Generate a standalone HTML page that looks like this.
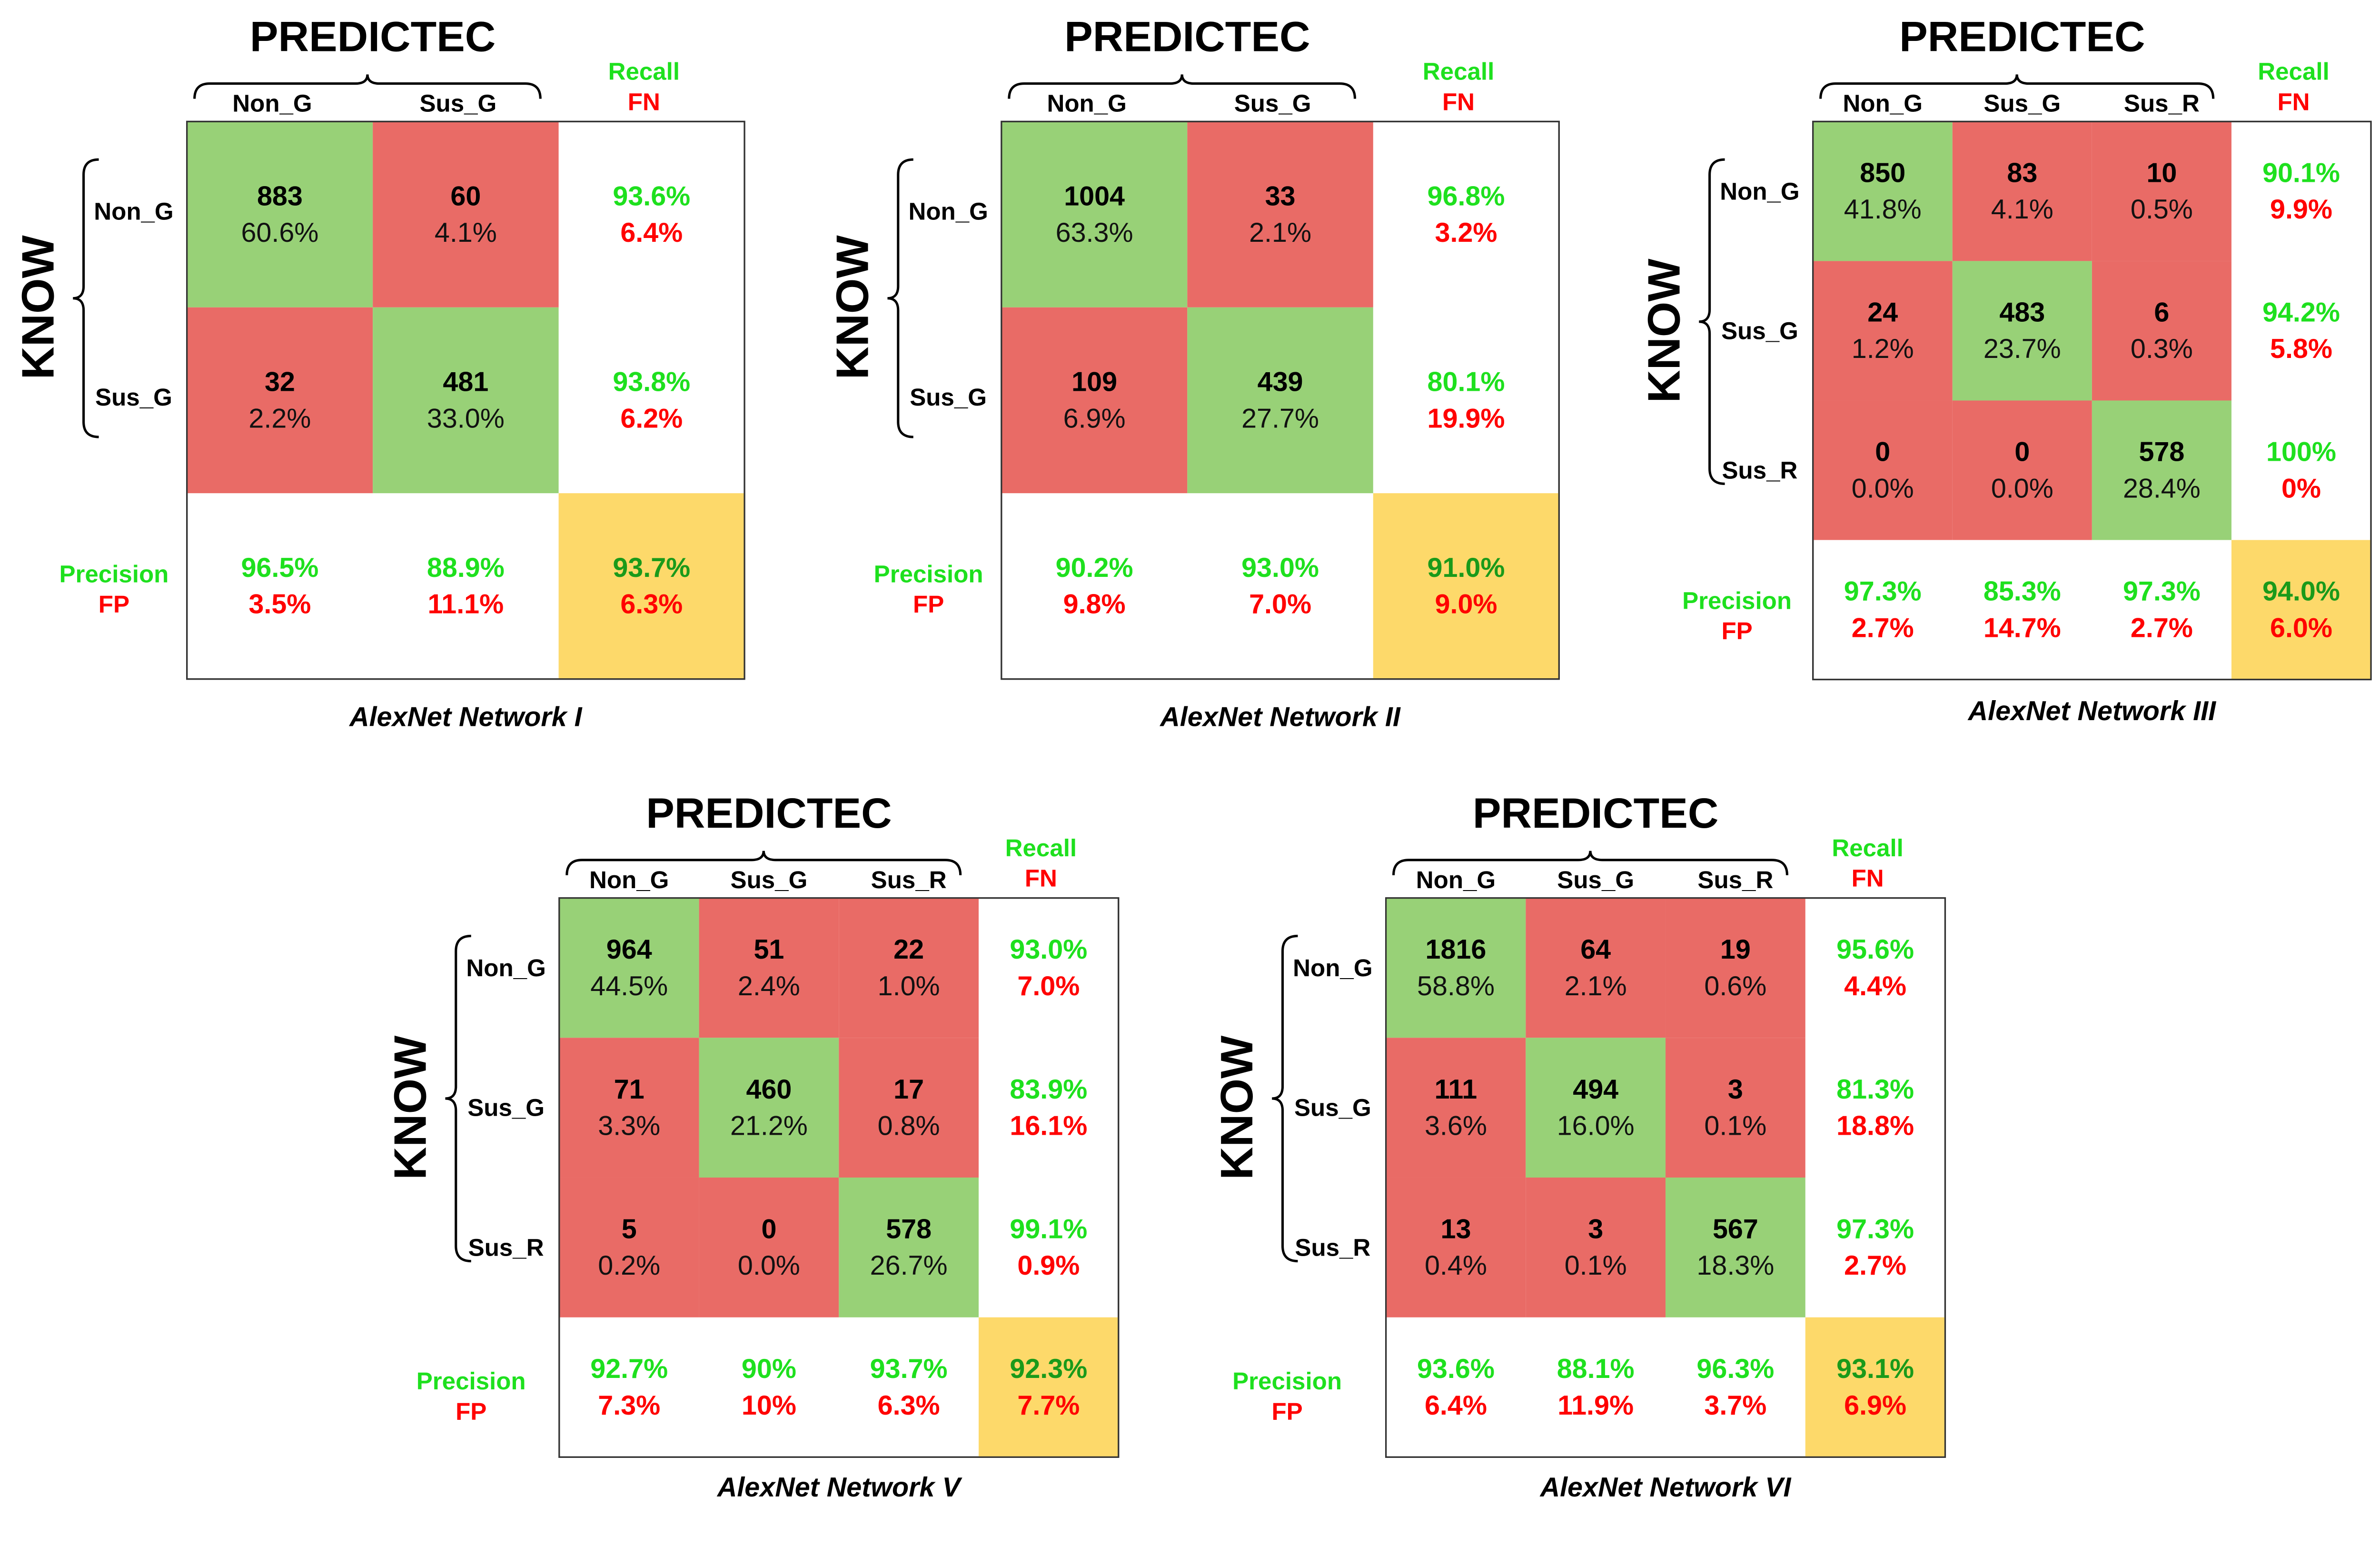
<!DOCTYPE html>
<html><head><meta charset="utf-8">
<style>
html,body{margin:0;padding:0;background:#fff;}
svg{display:block;font-family:"Liberation Sans",Arial,sans-serif;}
</style></head>
<body>
<svg id="chart" width="5140" height="3288" viewBox="0 0 1568 1003" preserveAspectRatio="none" xmlns="http://www.w3.org/2000/svg"></svg>
<script>
// ---- data ----
const titles = ["AlexNet Network I","AlexNet Network II","AlexNet Network III","AlexNet Network V","AlexNet Network VI"];
const classes2 = ["Non_G","Sus_G"];
const classes3 = ["Non_G","Sus_G","Sus_R"];
const counts1 = [[883,60],[32,481]];
const pcts1 = [["60.6%","4.1%"],["2.2%","33.0%"]];
const recall1 = ["93.6%","93.8%"]; const fn1 = ["6.4%","6.2%"];
const prec1 = ["96.5%","88.9%"]; const fp1 = ["3.5%","11.1%"];
const overall1 = ["93.7%","6.3%"];
const counts2 = [[1004,33],[109,439]];
const pcts2 = [["63.3%","2.1%"],["6.9%","27.7%"]];
const recall2 = ["96.8%","80.1%"]; const fn2 = ["3.2%","19.9%"];
const prec2 = ["90.2%","93.0%"]; const fp2 = ["9.8%","7.0%"];
const overall2 = ["91.0%","9.0%"];
const counts3 = [[850,83,10],[24,483,6],[0,0,578]];
const pcts3 = [["41.8%","4.1%","0.5%"],["1.2%","23.7%","0.3%"],["0.0%","0.0%","28.4%"]];
const recall3 = ["90.1%","94.2%","100%"]; const fn3 = ["9.9%","5.8%","0%"];
const prec3 = ["97.3%","85.3%","97.3%"]; const fp3 = ["2.7%","14.7%","2.7%"];
const overall3 = ["94.0%","6.0%"];
const counts5 = [[964,51,22],[71,460,17],[5,0,578]];
const pcts5 = [["44.5%","2.4%","1.0%"],["3.3%","21.2%","0.8%"],["0.2%","0.0%","26.7%"]];
const recall5 = ["93.0%","83.9%","99.1%"]; const fn5 = ["7.0%","16.1%","0.9%"];
const prec5 = ["92.7%","90%","93.7%"]; const fp5 = ["7.3%","10%","6.3%"];
const overall5 = ["92.3%","7.7%"];
const counts6 = [[1816,64,19],[111,494,3],[13,3,567]];
const pcts6 = [["58.8%","2.1%","0.6%"],["3.6%","16.0%","0.1%"],["0.4%","0.1%","18.3%"]];
const recall6 = ["95.6%","81.3%","97.3%"]; const fn6 = ["4.4%","18.8%","2.7%"];
const prec6 = ["93.6%","88.1%","96.3%"]; const fp6 = ["6.4%","11.9%","3.7%"];
const overall6 = ["93.1%","6.9%"];

const NS="http://www.w3.org/2000/svg";
const svg=document.getElementById('chart');
const GREEN="#98d177", RED="#e96b66", YEL="#fdd96a", TG="#1ee01e", TR="#ff0000";
function el(tag,attrs,parent){const e=document.createElementNS(NS,tag);for(const k in attrs)e.setAttribute(k,attrs[k]);(parent||svg).appendChild(e);return e;}
function txt(parent,x,y,s,size,weight,fill,extra){const t=el('text',Object.assign({x:x,y:y,'font-size':size,'font-weight':weight,fill:fill,'text-anchor':'middle','dominant-baseline':'central'},extra||{}),parent);t.textContent=s;return t;}

function drawMatrix(idx,x0,y0,cell,classes,counts,pcts,recall,fn,prec,fp,overall,precDx,precDy){
  const n=classes.length, g=el('g',{});
  
  
  const W=cell*(n+1), cw=cell*n;
  el('rect',{x:x0,y:y0,width:W,height:W,fill:'#fff',stroke:'#333','stroke-width':1},g);
  for(let r=0;r<n;r++)for(let c=0;c<n;c++){
    const rc=el('rect',{x:x0+c*cell,y:y0+r*cell,width:cell,height:cell,fill:r===c?GREEN:RED},g);
    
    
    const cx=x0+c*cell+cell/2, cy=y0+r*cell+cell/2;
    txt(g,cx,cy-12,String(counts[r][c]),18,'bold','#000');
    txt(g,cx,cy+12,pcts[r][c],18,'normal','#111');
  }
  for(let r=0;r<n;r++){
    const cx=x0+cw+cell/2, cy=y0+r*cell+cell/2;
    const a=txt(g,cx,cy-12,recall[r],18,'bold',TG); 
    const b=txt(g,cx,cy+12,fn[r],18,'bold',TR); 
  }
  for(let c=0;c<n;c++){
    const cx=x0+c*cell+cell/2, cy=y0+cw+cell/2;
    const a=txt(g,cx,cy-12,prec[c],18,'bold',TG); 
    const b=txt(g,cx,cy+12,fp[c],18,'bold',TR); 
  }
  el('rect',{x:x0+cw,y:y0+cw,width:cell,height:cell,fill:YEL},g);
  txt(g,x0+cw+cell/2,y0+cw+cell/2-12,overall[0],18,'bold','#1a9a1a');
  txt(g,x0+cw+cell/2,y0+cw+cell/2+12,overall[1],18,'bold',TR);
  el('rect',{x:x0,y:y0,width:W,height:W,fill:'none',stroke:'#333','stroke-width':1},g);
  const t=txt(g,x0+cw/2,y0-56,'PREDICTEC',28,'bold','#000');
  
  const bx1=x0+5,bx2=x0+cw-12,bm=(bx1+bx2)/2,by=y0-25;
  el('path',{d:`M${bx1},${by+10} Q${bx1},${by} ${bx1+10},${by} L${bm-8},${by} Q${bm},${by} ${bm},${by-6} Q${bm},${by} ${bm+8},${by} L${bx2-10},${by} Q${bx2},${by} ${bx2},${by+10}`,fill:'none',stroke:'#000','stroke-width':1.6},g);
  for(let c=0;c<n;c++){const l=txt(g,x0+c*cell+cell/2+(n===2?-5:0),y0-12,classes[c],16,'bold','#000');}
  txt(g,x0+cw+cell/2-5,y0-33,'Recall',16,'bold',TG);
  txt(g,x0+cw+cell/2-5,y0-13,'FN',16,'bold',TR);
  const ky=y0+cw/2;
  const k=txt(g,x0-98,ky,'KNOW',30,'bold','#000',{transform:`rotate(-90 ${x0-98} ${ky})`});
  
  const lx=x0-68,ly1=y0+25,ly2=y0+cw-37,lm=(ly1+ly2)/2;
  el('path',{d:`M${lx+10},${ly1} Q${lx},${ly1} ${lx},${ly1+10} L${lx},${lm-8} Q${lx},${lm} ${lx-7},${lm} Q${lx},${lm} ${lx},${lm+8} L${lx},${ly2-10} Q${lx},${ly2} ${lx+10},${ly2}`,fill:'none',stroke:'#000','stroke-width':1.6},g);
  for(let r=0;r<n;r++){const l=txt(g,x0-35,y0+r*cell+cell/2+(n===2?-2:0),classes[r],16,'bold','#000');}
  txt(g,x0-precDx,y0+cw+cell/2-8+precDy,'Precision',16,'bold',TG);
  txt(g,x0-precDx,y0+cw+cell/2+12+precDy,'FP',16,'bold',TR);
  const cap=txt(g,x0+W/2,y0+(n===2?392:388),titles[idx],18,'bold','#000',{'font-style':'italic'});
  
}
drawMatrix(0,123,80,122.3,classes2,counts1,pcts1,recall1,fn1,prec1,fp1,overall1,48,0);
drawMatrix(1,659,80,122.3,classes2,counts2,pcts2,recall2,fn2,prec2,fp2,overall2,48,0);
drawMatrix(2,1193,80,91.8,classes3,counts3,pcts3,recall3,fn3,prec3,fp3,overall3,50,2);
drawMatrix(3,368,591,92,classes3,counts5,pcts5,recall5,fn5,prec5,fp5,overall5,58,4);
drawMatrix(4,912,591,92,classes3,counts6,pcts6,recall6,fn6,prec6,fp6,overall6,65,4);
svg.setAttribute('viewBox','0 0 1610 1030');
</script>
</body></html>
